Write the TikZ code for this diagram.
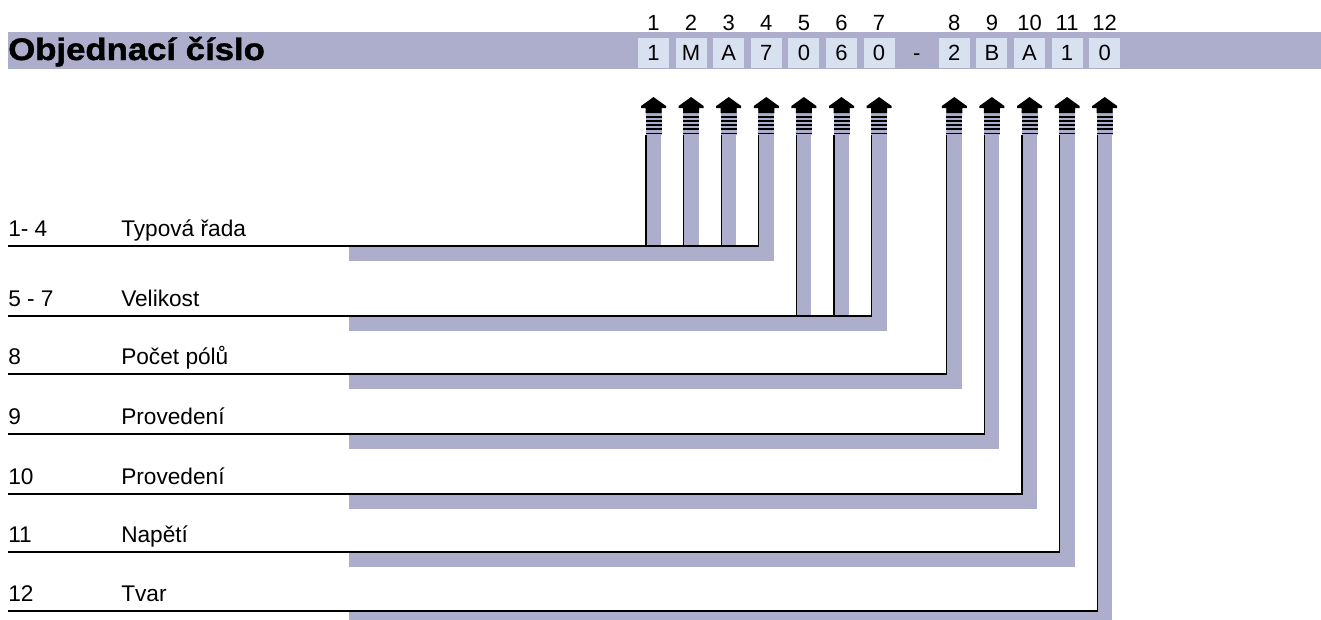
\documentclass[tikz,border=0pt]{standalone}
\usepackage{fontspec}
\setmainfont{Liberation Sans}
\newfontfamily\titlefont[FakeBold=1.3]{Liberation Sans}
\usepackage{graphicx}
\definecolor{lavender}{RGB}{173,173,204}
\definecolor{pale}{RGB}{216,225,240}
\tikzset{
  cellbox/.style={fill=pale, minimum width=23.25pt, minimum height=22.5pt, inner sep=0pt, font=\fontsize{16.5}{18}\selectfont},
  posnum/.style={anchor=base, inner sep=0pt, font=\fontsize{16.5}{18}\selectfont},
  lab/.style={anchor=base west, inner sep=0pt, font=\fontsize{17}{20}\selectfont},
  wire/.style={line width=0.9pt},
  shadowline/.style={lavender, line width=11.25pt},
  uparrow/.pic={
    \fill[lavender] (-8,11) rectangle (8,38);
    \fill (0,0) -- (12.5,9) -- (12.5,11) -- (8,11) -- (8,16) -- (-8,16) -- (-8,11) -- (-12.5,11) -- (-12.5,9) -- cycle;
    \foreach \s in {19,23,27,31} \fill (-8,\s) rectangle (8,\s+1.6);
    \fill (-8,35.5) rectangle (8,37.2);
  }
}
\begin{document}
\begin{tikzpicture}[x=0.75pt, y=-0.75pt]
	\useasboundingbox (0,0) rectangle (1321,619);
	% header band
	\fill[lavender] (8,32) rectangle (1321,69);
	\node[anchor=base west, inner sep=0pt, font=\fontsize{23.25}{26}\titlefont\bfseries] (title) at (8,60) {\scalebox{1.12}[1]{Objednací číslo}};
	% order code cells
	\foreach \i/\d [count=\n] in {0/1,1/M,2/A,3/7,4/0,5/6,6/0,8/2,9/B,10/A,11/1,12/0}{
		\pgfmathsetmacro\cx{653.5+37.6*\i}
		\node[cellbox] (c\i) at (\cx,53) {\d};
		\node[posnum] (n\n) at (\cx,30) {\n};
		\coordinate (foot\i) at (\cx-7.5,135);
		\pic (a\i) at (\cx,97) {uparrow};
	}
	\node[posnum] (dash) at (916.7,60) {-};
	% groups
	\foreach \ly/\num/\name/\last/\cols [count=\g] in {
		246/{1- 4}/{Typová řada}/3/{0,1,2},
		316/{5 - 7}/{Velikost}/6/{4,5},
		374/8/{Počet pólů}/8/8,
		434/9/{Provedení}/9/9,
		494/10/{Provedení}/10/10,
		552/11/{Napětí}/11/11,
		611/12/{Tvar}/12/12}{
		\coordinate (start\g) at (8,\ly);
		\coordinate (shd\g) at (349,\ly);
		\path (foot\last |- start\g) coordinate (bend\g);
		\draw[shadowline] ([shift={(0,7.5)}]shd\g) -- ([shift={(7.5,7.5)}]bend\g) -- ([shift={(7.5,0)}]foot\last);
		\foreach \k in \cols {
			\path (foot\k |- start\g) coordinate (j\k);
			\draw[shadowline] ([shift={(7.5,0)}]j\k) -- ([shift={(7.5,0)}]foot\k);
			\draw[wire] (j\k) -- (foot\k);
		}
		\draw[wire] (start\g) -- (bend\g) -- (foot\last);
		\node[lab] (num\g) at (8,\ly-10) {\num};
		\node[lab] (name\g) at (121,\ly-10) {\name};
	}
\end{tikzpicture}
\end{document}
